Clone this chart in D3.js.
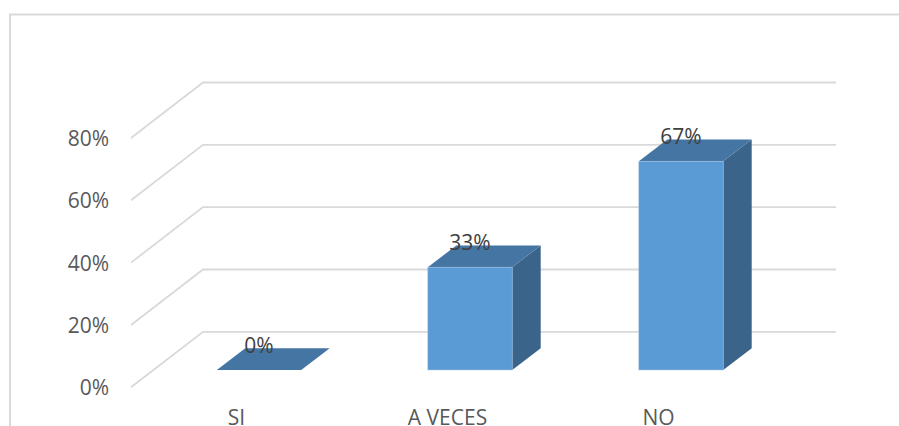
<!DOCTYPE html>
<html>
<head>
<meta charset="utf-8">
<script src="https://cdn.jsdelivr.net/npm/d3@7/dist/d3.min.js"></script>
<style>
  html, body { margin: 0; padding: 0; background: #fff; overflow: hidden; }
  svg { display: block; font-family: "Open Sans", sans-serif; }
  .domain { display: none; }
</style>
</head>
<body>
<svg id="chart" width="899" height="426"></svg>
<script>
// Survey responses and axis ticks
const categories = ["SI", "A VECES", "NO"];
const shares = [0, 0.33, 0.67];
const shareLabels = ["0%", "33%", "67%"];
const axisTicks = [0, 0.2, 0.4, 0.6, 0.8];

const svg = d3.select("#chart");

// Front plane of the 3D box; wall is pushed back by (wallDx, wallDy)
const floorFront = 387.3, topFront = 138, plotLeft = 131, plotRight = 764;
const wallDx = 72, wallDy = -55.5;
// Bars stand part-way into the floor and have their own depth
const barDx = 22.5, barDy = -17.3;
const depthDx = 28.5, depthDy = -21.7;

const y = d3.scaleLinear().domain([0, 0.8]).range([floorFront, topFront]);
const x = d3.scaleBand().domain(categories).range([plotLeft, plotRight])
  .paddingInner(0.6).paddingOuter(0.3);

// Chart frame, open on the right and the bottom
svg.append("path")
  .attr("d", "M10,426V14.5H899")
  .attr("fill", "none").attr("stroke", "#d9d9d9").attr("stroke-width", 2);

// Gridlines run across the floor/side wall and then along the back wall
svg.append("g").selectAll("path").data(axisTicks).join("path")
  .attr("fill", "none").attr("stroke", "#d9d9d9").attr("stroke-width", 1.8)
  .attr("d", t => d3.line()([
    [plotLeft, y(t)],
    [plotLeft + wallDx, y(t) + wallDy],
    [plotRight + wallDx, y(t) + wallDy]
  ]));

// Each bar has three faces: side, top, front
const bars = svg.append("g").selectAll("g")
  .data(categories.map((c, i) => ({ c, v: shares[i], label: shareLabels[i] })))
  .join("g");

const geom = d => {
  const x0 = x(d.c) + barDx, x1 = x0 + x.bandwidth();
  const yb = floorFront + barDy, yt = y(d.v) + barDy;
  return { x0, x1, yb, yt };
};
const edge = "#a8c8e6";

bars.append("path").attr("fill", "#3a6489")
  .attr("d", d => {
    const g = geom(d);
    return d3.line()([[g.x1, g.yb], [g.x1 + depthDx, g.yb + depthDy],
      [g.x1 + depthDx, g.yt + depthDy], [g.x1, g.yt]]) + "Z";
  });
bars.append("path").attr("fill", "#4575a3")
  .attr("d", d => {
    const g = geom(d);
    return d3.line()([[g.x0, g.yt], [g.x1, g.yt],
      [g.x1 + depthDx, g.yt + depthDy], [g.x0 + depthDx, g.yt + depthDy]]) + "Z";
  });
bars.append("rect").attr("fill", "#5b9bd5")
  .attr("stroke", edge).attr("stroke-width", 0.5)
  .attr("x", d => geom(d).x0).attr("width", x.bandwidth())
  .attr("y", d => geom(d).yt).attr("height", d => geom(d).yb - geom(d).yt);

// Value labels sit on the top face of each bar
bars.append("text")
  .attr("x", d => geom(d).x0 + x.bandwidth() / 2)
  .attr("y", d => geom(d).yt - 17.3)
  .attr("text-anchor", "middle").attr("font-size", 21).attr("fill", "#404040")
  .text(d => d.label);

// Value axis
const yAxis = svg.append("g").attr("transform", "translate(116,0)")
  .call(d3.axisLeft(y).tickValues(axisTicks).tickFormat(d3.format(".0%")).tickSize(0).tickPadding(7));
yAxis.selectAll("text").attr("font-size", 21).attr("font-family", "Open Sans")
  .attr("fill", "#595959").attr("dy", 7.4);

// Category axis, running along the bottom edge of the page like the frame
const xAxis = svg.append("g").attr("transform", "translate(0,425)")
  .call(d3.axisBottom(x).tickSize(0).tickPadding(0));
xAxis.selectAll("text").attr("font-size", 21).attr("font-family", "Open Sans")
  .attr("fill", "#595959").attr("y", 0).attr("dy", 0);
</script>
</body>
</html>
